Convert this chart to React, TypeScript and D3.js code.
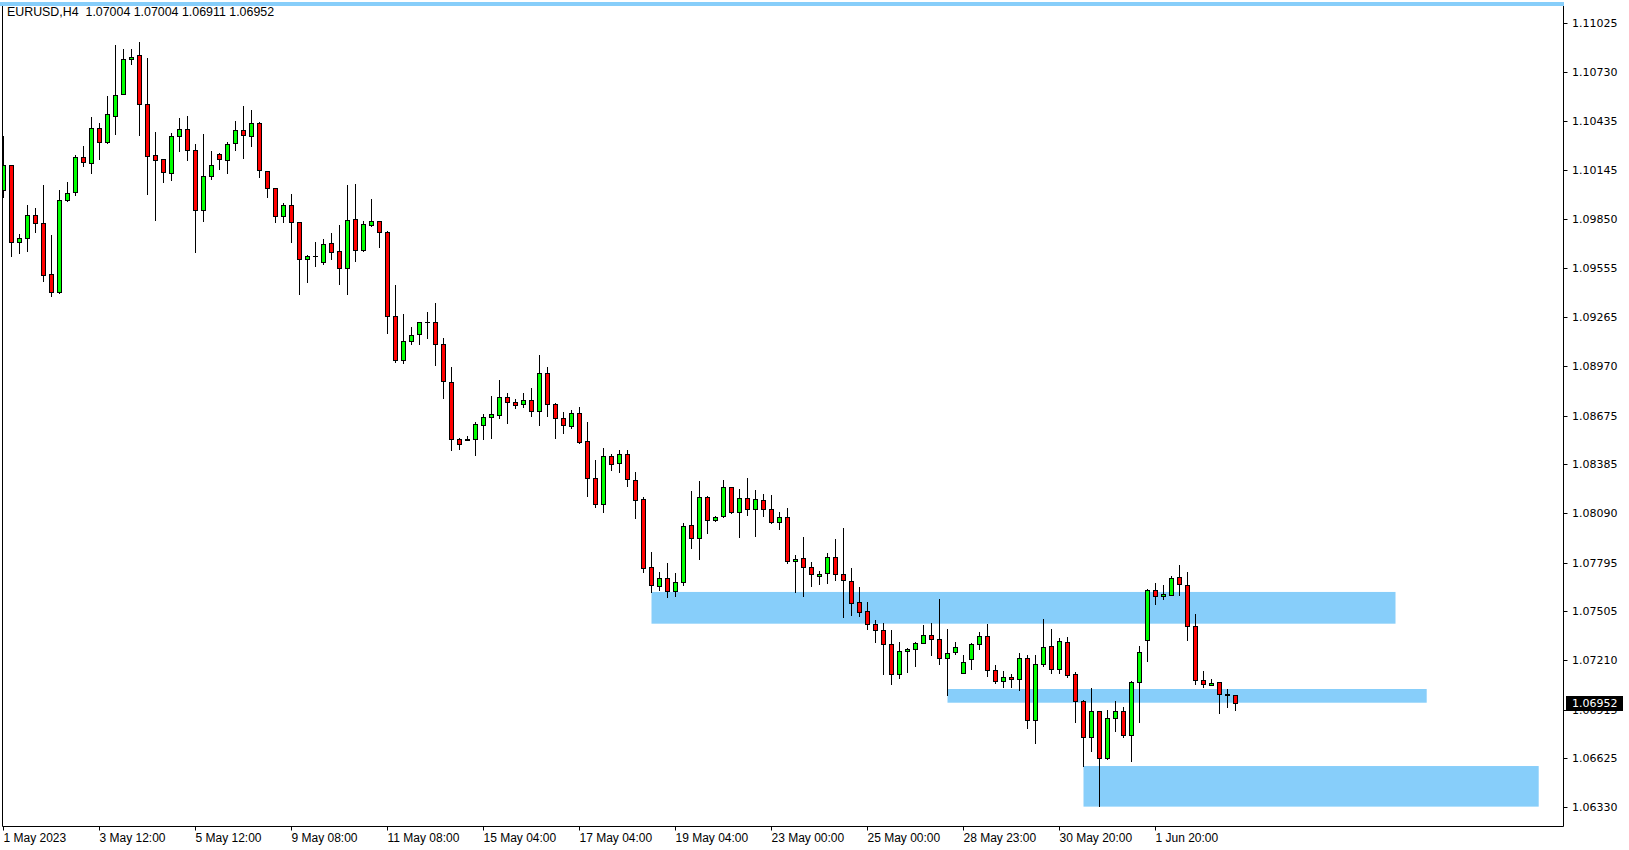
import React from "react";
import * as d3 from "d3";

const title = "EURUSD,H4  1.07004 1.07004 1.06911 1.06952";

// H4 bars, oldest first
const opens = [
  1.10023, 1.10173, 1.09712, 1.09736, 1.09873, 1.09826, 1.0952, 1.09413, 1.09965, 1.10011,
  1.10221, 1.10185, 1.10394, 1.1031, 1.10466, 1.10598, 1.10807, 1.10831, 1.10538, 1.10233,
  1.10209, 1.10125, 1.10346, 1.10388, 1.10263, 1.09903, 1.10107, 1.10239, 1.10203, 1.10304,
  1.10382, 1.10346, 1.10424, 1.1014, 1.10035, 1.09867, 1.09933, 1.09832, 1.0961, 1.09632,
  1.09592, 1.09706, 1.09658, 1.09556, 1.09849, 1.09664, 1.09814, 1.09838, 1.09772, 1.09269,
  1.09006, 1.09119, 1.09161, 1.09233, 1.09233, 1.09101, 1.08874, 1.08533, 1.08533, 1.08533,
  1.0862, 1.08664, 1.08676, 1.08784, 1.08754, 1.08742, 1.08766, 1.087, 1.08928, 1.08742,
  1.08658, 1.0861, 1.08688, 1.08521, 1.08299, 1.08144, 1.08431, 1.08389, 1.08443, 1.08287,
  1.08176, 1.07766, 1.07653, 1.07701, 1.07623, 1.07677, 1.08018, 1.0794, 1.08186, 1.08048,
  1.08072, 1.08245, 1.08096, 1.0818, 1.08114, 1.08168, 1.08114, 1.08036, 1.08066, 1.07802,
  1.0782, 1.07766, 1.07713, 1.07731, 1.07826, 1.07725, 1.07683, 1.07557, 1.07503, 1.07425,
  1.07389, 1.07306, 1.07126, 1.07264, 1.07276, 1.07312, 1.0736, 1.07336, 1.07222, 1.07258,
  1.07132, 1.07216, 1.07306, 1.07354, 1.0715, 1.07084, 1.07108, 1.07096, 1.07222, 1.06851,
  1.07186, 1.07294, 1.07156, 1.07318, 1.07126, 1.06965, 1.06749, 1.06905, 1.06623, 1.06863,
  1.06905, 1.06761, 1.07078, 1.0733, 1.07629, 1.07593, 1.07599, 1.07707, 1.07659, 1.07413,
  1.0709, 1.0706, 1.07078, 1.07006, 1.07004,
];
const highs = [
  1.10348, 1.10173, 1.09762, 1.09935, 1.09917, 1.10055, 1.09756, 1.10023, 1.10073, 1.10233,
  1.10288, 1.1046, 1.10424, 1.10588, 1.10893, 1.10867, 1.10867, 1.10909, 1.10813, 1.10372,
  1.10212, 1.10366, 1.10456, 1.10466, 1.103, 1.1036, 1.10258, 1.10245, 1.10312, 1.10438,
  1.10528, 1.10504, 1.1043, 1.1014, 1.10035, 1.09945, 1.10001, 1.09832, 1.09634, 1.09712,
  1.09732, 1.09768, 1.09815, 1.10055, 1.10061, 1.09838, 1.09971, 1.09838, 1.09779, 1.09456,
  1.09283, 1.09205, 1.09236, 1.09295, 1.09349, 1.09139, 1.08965, 1.08539, 1.08551, 1.08634,
  1.08682, 1.0879, 1.08886, 1.08808, 1.08772, 1.08808, 1.08838, 1.09035, 1.08964, 1.08748,
  1.08694, 1.08706, 1.08724, 1.08634, 1.08407, 1.08479, 1.08443, 1.08467, 1.08467, 1.08335,
  1.08186, 1.07856, 1.07737, 1.07791, 1.07731, 1.0803, 1.08221, 1.08281, 1.08192, 1.08072,
  1.08287, 1.08245, 1.08233, 1.08299, 1.08227, 1.08204, 1.08198, 1.08096, 1.0812, 1.07838,
  1.07946, 1.07796, 1.07743, 1.0785, 1.07934, 1.08, 1.07761, 1.07647, 1.07557, 1.07449,
  1.07431, 1.07389, 1.07318, 1.07282, 1.07318, 1.07419, 1.07431, 1.07575, 1.07395, 1.07318,
  1.0724, 1.07312, 1.07377, 1.07425, 1.0718, 1.07144, 1.07126, 1.07252, 1.0724, 1.0724,
  1.07455, 1.07395, 1.07342, 1.07348, 1.07138, 1.06971, 1.07042, 1.06905, 1.06911, 1.06965,
  1.06929, 1.07084, 1.07294, 1.07635, 1.07671, 1.07659, 1.07713, 1.07779, 1.07737, 1.07485,
  1.07144, 1.07096, 1.07078, 1.07036, 1.07004,
];
const lows = [
  1.09985, 1.09632, 1.09646, 1.09662, 1.09775, 1.09482, 1.09392, 1.09407, 1.09961, 1.09997,
  1.1017, 1.10128, 1.10212, 1.10304, 1.10362, 1.10598, 1.10781, 1.10356, 1.10003, 1.09847,
  1.10075, 1.10087, 1.1026, 1.10206, 1.09656, 1.09841, 1.10093, 1.10152, 1.10128, 1.10266,
  1.10218, 1.1029, 1.10104, 1.09985, 1.09835, 1.09835, 1.09715, 1.09401, 1.09476, 1.09572,
  1.09584, 1.09614, 1.09464, 1.09404, 1.09602, 1.09662, 1.09811, 1.09686, 1.09171, 1.08997,
  1.08991, 1.09105, 1.09105, 1.09141, 1.08979, 1.08782, 1.0847, 1.08476, 1.08527, 1.0844,
  1.08536, 1.08542, 1.08658, 1.08628, 1.08718, 1.08724, 1.0867, 1.08616, 1.0867, 1.08539,
  1.08569, 1.08598, 1.08512, 1.08195, 1.08126, 1.08096, 1.08351, 1.08339, 1.08255, 1.08063,
  1.0774, 1.07617, 1.07629, 1.07587, 1.07593, 1.07659, 1.0788, 1.07814, 1.0797, 1.08042,
  1.08066, 1.0809, 1.07946, 1.08078, 1.07952, 1.08072, 1.0803, 1.07994, 1.07791, 1.07616,
  1.07592, 1.07652, 1.07664, 1.07674, 1.07692, 1.07471, 1.07483, 1.07477, 1.07395, 1.07318,
  1.0713, 1.07066, 1.07102, 1.07142, 1.07178, 1.07312, 1.07243, 1.07189, 1.07004, 1.07246,
  1.07132, 1.0716, 1.07279, 1.07118, 1.07072, 1.07048, 1.07048, 1.0703, 1.06803, 1.06713,
  1.07174, 1.07132, 1.07132, 1.07108, 1.06842, 1.06575, 1.06665, 1.0634, 1.06617, 1.06789,
  1.06749, 1.06605, 1.06839, 1.07204, 1.07545, 1.07575, 1.07599, 1.07599, 1.0733, 1.07066,
  1.07048, 1.0706, 1.06893, 1.06929, 1.06911,
];
const closes = [
  1.10176, 1.09712, 1.09736, 1.09873, 1.09826, 1.09514, 1.09413, 1.09963, 1.10005, 1.10221,
  1.10191, 1.10394, 1.1031, 1.10478, 1.10592, 1.10807, 1.10823, 1.10538, 1.10227, 1.10203,
  1.10131, 1.10346, 1.10388, 1.10263, 1.09903, 1.10107, 1.10173, 1.10209, 1.10298, 1.10382,
  1.10352, 1.10424, 1.10143, 1.10035, 1.09867, 1.09933, 1.09832, 1.0961, 1.09628, 1.09632,
  1.097, 1.09656, 1.09556, 1.09843, 1.09664, 1.0982, 1.09838, 1.09772, 1.09269, 1.09006,
  1.09119, 1.09155, 1.09233, 1.09233, 1.09101, 1.0888, 1.08533, 1.08506, 1.08527, 1.08622,
  1.08664, 1.08682, 1.08784, 1.08754, 1.08736, 1.08766, 1.087, 1.08928, 1.08742, 1.08658,
  1.08616, 1.08688, 1.08518, 1.08299, 1.08144, 1.08431, 1.08383, 1.08443, 1.08293, 1.08171,
  1.07764, 1.07659, 1.07701, 1.07623, 1.07677, 1.08012, 1.0794, 1.08186, 1.08048, 1.08066,
  1.08245, 1.08096, 1.0818, 1.08114, 1.08176, 1.08114, 1.08036, 1.08066, 1.07802, 1.07814,
  1.07766, 1.07725, 1.07725, 1.07826, 1.07725, 1.07689, 1.07551, 1.07497, 1.07425, 1.07389,
  1.07306, 1.07126, 1.07264, 1.07276, 1.07312, 1.0736, 1.07336, 1.07222, 1.07255, 1.07288,
  1.07198, 1.07306, 1.07354, 1.0715, 1.07084, 1.07108, 1.07096, 1.07222, 1.06851, 1.07186,
  1.07288, 1.07156, 1.07324, 1.0712, 1.06965, 1.06749, 1.06905, 1.06623, 1.06863, 1.06905,
  1.06761, 1.07078, 1.07258, 1.07629, 1.07593, 1.07605, 1.07701, 1.07665, 1.07413, 1.0709,
  1.07066, 1.07072, 1.07006, 1.07004, 1.06952,
];

const timeLabels = [
  "1 May 2023", "3 May 12:00", "5 May 12:00", "9 May 08:00", "11 May 08:00",
  "15 May 04:00", "17 May 04:00", "19 May 04:00", "23 May 00:00", "25 May 00:00",
  "28 May 23:00", "30 May 20:00", "1 Jun 20:00",
];
const timeLabelBars = [0, 12, 24, 36, 48, 60, 72, 84, 96, 108, 120, 132, 144];

const priceTicks = [
  "1.11025", "1.10730", "1.10435", "1.10145", "1.09850", "1.09555", "1.09265", "1.08970",
  "1.08675", "1.08385", "1.08090", "1.07795", "1.07505", "1.07210", "1.06915", "1.06625", "1.06330",
];

const lastPrice = 1.06952;

// zone rectangles (bar index from/to, price top/bottom)
const zoneFrom = [81, 118, 135];
const zoneTo = [174, 177.9, 191.9];
const zoneTop = [1.07619, 1.07038, 1.06577];
const zoneBottom = [1.07429, 1.06956, 1.06334];

const W = 1629;
const H = 850;
const frame = { left: 2.5, top: 2.5, right: 1563.5, bottom: 826.5 };

const App = () => {
  const x = d3.scaleLinear().domain([0, 1]).range([3.5, 11.5]);
  const y = d3.scaleLinear().domain([1.0633, 1.11025]).range([807.3, 22.9]);
  const snap = (v: number) => Math.round(v) + 0.5;

  return (
    <div style={{ position: "absolute", left: 0, top: 0 }}>
      <style>{`body{margin:0}`}</style>
      <svg width={W} height={H} style={{ display: "block", background: "#fff" }}>
        <defs>
          <clipPath id="plot">
            <rect x={3} y={2} width={frame.right - 3} height={frame.bottom - 2} />
          </clipPath>
        </defs>

        {/* frame */}
        <line x1={frame.left} x2={frame.left} y1={frame.top} y2={frame.bottom} stroke="#000" />
        <line x1={frame.right} x2={frame.right} y1={frame.top} y2={frame.bottom} stroke="#000" />
        <line x1={frame.left} x2={frame.right} y1={frame.bottom} y2={frame.bottom} stroke="#000" />

        <g clipPath="url(#plot)">
          {zoneFrom.map((f, k) => (
            <rect
              key={`z${k}`}
              x={x(f)}
              y={y(zoneTop[k])}
              width={x(zoneTo[k]) - x(f)}
              height={y(zoneBottom[k]) - y(zoneTop[k])}
              fill="#87cefa"
            />
          ))}

          {opens.map((o, i) => {
            const c = closes[i];
            const cx = x(i);
            const yTop = snap(y(Math.max(o, c)));
            const yBot = snap(y(Math.min(o, c)));
            const bull = c > o;
            return (
              <g key={i}>
                <line
                  x1={cx}
                  x2={cx}
                  y1={Math.round(y(highs[i]))}
                  y2={Math.round(y(lows[i])) + 1}
                  stroke="#000"
                />
                {yBot - yTop < 1 ? (
                  <line x1={cx - 2.5} x2={cx + 2.5} y1={yTop} y2={yTop} stroke="#000" />
                ) : (
                  <rect
                    x={cx - 2}
                    y={yTop}
                    width={4}
                    height={yBot - yTop}
                    fill={bull ? "#00ff00" : "#ff0000"}
                    stroke="#000"
                  />
                )}
              </g>
            );
          })}
        </g>
        <rect x={0} y={2} width={frame.right + 0.5} height={4} fill="#87cefa" />

        <text
          x={7}
          y={16}
          fontFamily="Liberation Sans, Arial, sans-serif"
          fontSize={12.4}
          fill="#000"
        >
          {title.replace("  ", "\u00a0\u00a0")}
        </text>

        {/* price axis */}
        {priceTicks.map((t) => {
          const ty = snap(y(+t));
          return (
            <g key={t}>
              <line x1={frame.right} x2={frame.right + 4} y1={ty} y2={ty} stroke="#000" />
              <text
                x={1572}
                y={ty}
                dy="0.35em"
                fontFamily="DejaVu Sans, sans-serif"
                fontSize={11}
                fill="#000"
              >
                {t}
              </text>
            </g>
          );
        })}
        <rect x={1566} y={snap(y(lastPrice)) - 7.5} width={57} height={15} fill="#000" />
        <text
          x={1572}
          y={snap(y(lastPrice))}
          dy="0.35em"
          fontFamily="DejaVu Sans, sans-serif"
          fontSize={11}
          fill="#fff"
        >
          {lastPrice.toFixed(5)}
        </text>

        {/* time axis */}
        {timeLabels.map((t, k) => {
          const tx = x(timeLabelBars[k]);
          return (
            <g key={t}>
              <line x1={tx} x2={tx} y1={frame.bottom} y2={frame.bottom + 4} stroke="#000" />
              <text
                x={tx}
                y={842}
                fontFamily="Liberation Sans, Arial, sans-serif"
                fontSize={12}
                fill="#000"
              >
                {t}
              </text>
            </g>
          );
        })}
      </svg>
    </div>
  );
};

export default App;
